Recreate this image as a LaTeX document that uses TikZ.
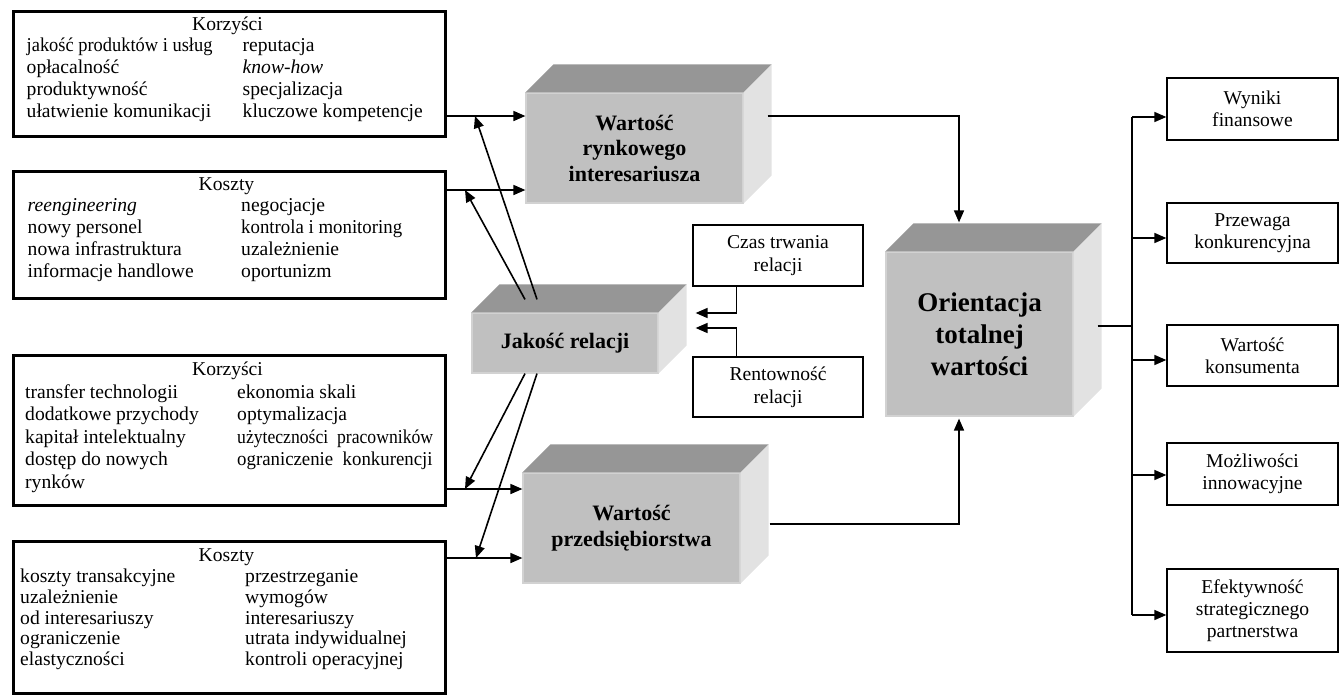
\documentclass[tikz,border=0pt]{standalone}
\usepackage{graphicx}
\usepackage{fontspec}
\setmainfont{Liberation Serif}
\usetikzlibrary{arrows.meta,calc}
\definecolor{frontg}{HTML}{C0C0C0}
\definecolor{topg}{HTML}{969696}
\definecolor{sideg}{HTML}{E2E2E2}
\definecolor{edgeg}{HTML}{D2D2D2}
\tikzset{
  lbox/.style={draw, line width=3pt, rectangle, inner sep=0pt, anchor=north west},
  txt/.style={inner sep=0pt, font=\fontsize{19.6}{21.75}\selectfont},
  rbox/.style={draw, line width=1.3pt, rectangle, inner sep=0pt, align=center, font=\fontsize{19.6}{22}\selectfont},
  front/.style={fill=frontg, draw=edgeg, line width=1.2pt, rectangle, inner sep=0pt, align=center, font=\bfseries\fontsize{22}{25.5}\selectfont},
  topface/.style={fill=topg},
  sideface/.style={fill=sideg},
  conn/.style={line width=1.6pt},
  arr/.style={line width=1.6pt, -{Triangle[length=12pt,width=10pt]}},
}
\newcommand\cubefaces[1]{%
  \fill[topface] (#1.north west) -- ++(28,-28) -- ($(#1.north east)+(28,-28)$) -- (#1.north east) -- cycle;
  \fill[sideface] (#1.north east) -- ++(28,-28) -- ($(#1.south east)+(28,-28)$) -- (#1.south east) -- cycle;
}
\newcommand\cond[2]{\scalebox{#1}[1]{#2}}
\begin{document}
\begin{tikzpicture}[x=1pt, y=-1pt]
\useasboundingbox (0,0) rectangle (1339,694);

% ---------- left boxes ----------
\node[lbox, minimum width=432pt, minimum height=125pt] (k1) at (11.5,10) {};
\node[txt, anchor=base] (k1h) at (227.5,30) {Korzyści};
\node[txt, anchor=base west] (k1a) at (26.5,51.75) {\begin{tabular}[t]{@{}l@{}}\cond{0.94}{jakość produktów i usług}\\ opłacalność\\ produktywność\\ ułatwienie komunikacji\end{tabular}};
\node[txt, anchor=base west] (k1b) at (242.5,51.75) {\begin{tabular}[t]{@{}l@{}}reputacja\\ \textit{know-how}\\ specjalizacja\\ kluczowe kompetencje\end{tabular}};

\node[lbox, minimum width=432pt, minimum height=126.5pt] (k2) at (11.5,170) {};
\node[txt, anchor=base] (k2h) at (226.5,190) {Koszty};
\node[txt, anchor=base west] (k2a) at (27.5,211.75) {\begin{tabular}[t]{@{}l@{}}\textit{reengineering}\\ nowy personel\\ nowa infrastruktura\\ informacje handlowe\end{tabular}};
\node[txt, anchor=base west] (k2b) at (241,211.75) {\begin{tabular}[t]{@{}l@{}}negocjacje\\ \cond{0.96}{kontrola i monitoring}\\ uzależnienie\\ oportunizm\end{tabular}};

\node[lbox, minimum width=432pt, minimum height=149.5pt] (k3) at (11.5,354) {};
\node[txt, anchor=base] (k3h) at (227.5,375) {Korzyści};
\node[txt, anchor=base west, font=\fontsize{19.6}{22.5}\selectfont] (k3a) at (25,398) {\begin{tabular}[t]{@{}l@{}}transfer technologii\\ dodatkowe przychody\\ kapitał intelektualny\\ dostęp do nowych\\ rynków\end{tabular}};
\node[txt, anchor=base west, font=\fontsize{19.6}{22.5}\selectfont] (k3b) at (237,398) {\begin{tabular}[t]{@{}l@{}}ekonomia skali\\ optymalizacja\\ \cond{0.9}{użyteczności~ pracowników}\\ \cond{0.96}{ograniczenie~ konkurencji}\end{tabular}};

\node[lbox, minimum width=432pt, minimum height=151.5pt] (k4) at (11.5,540) {};
\node[txt, anchor=base] (k4h) at (226.5,561.7) {Koszty};
\node[txt, anchor=base west, font=\fontsize{19.6}{20.7}\selectfont] (k4a) at (20,582.7) {\begin{tabular}[t]{@{}l@{}}koszty transakcyjne\\ uzależnienie\\ od interesariuszy\\ ograniczenie\\ elastyczności\end{tabular}};
\node[txt, anchor=base west, font=\fontsize{19.6}{20.7}\selectfont] (k4b) at (245,582.7) {\begin{tabular}[t]{@{}l@{}}przestrzeganie\\ wymogów\\ interesariuszy\\ utrata indywidualnej\\ kontroli operacyjnej\end{tabular}};

% ---------- 3D boxes ----------
\node[front, minimum width=217pt, minimum height=110pt] (wr) at (634.5,148) {Wartość\\rynkowego\\interesariusza};
\cubefaces{wr}
\node[front, minimum width=186pt, minimum height=60pt] (jr) at (565,343) {Jakość relacji};
\cubefaces{jr}
\node[front, minimum width=217pt, minimum height=110pt] (wp) at (631.5,528) {Wartość\\przedsiębiorstwa};
\cubefaces{wp}
\node[front, minimum width=187pt, minimum height=164pt, font=\bfseries\fontsize{27}{32}\selectfont] (ot) at (979.5,334) {Orientacja\\totalnej\\wartości};
\cubefaces{ot}

% ---------- small boxes ----------
\node[rbox, minimum width=170pt, minimum height=61pt, font=\fontsize{19.6}{23}\selectfont] (cz) at (778,255.5) {Czas trwania\\relacji};
\node[rbox, minimum width=170pt, minimum height=60pt, font=\fontsize{19.6}{23}\selectfont] (rt) at (778,387) {Rentowność\\relacji};

\node[rbox, minimum width=171pt, minimum height=62pt] (w1) at (1252.5,109) {Wyniki\\finansowe};
\node[rbox, minimum width=171pt, minimum height=60pt] (w2) at (1252.5,233) {Przewaga\\konkurencyjna};
\node[rbox, minimum width=171pt, minimum height=61pt] (w3) at (1252.5,355.5) {Wartość\\konsumenta};
\node[rbox, minimum width=171pt, minimum height=62pt] (w4) at (1252.5,474) {Możliwości\\innowacyjne};
\node[rbox, minimum width=171pt, minimum height=83pt] (w5) at (1252.5,610.5) {Efektywność\\strategicznego\\partnerstwa};

% ---------- connectors ----------
\coordinate (c1) at ($(k1.north east)+(0,106)$);
\coordinate (c2) at ($(k2.north east)+(0,20)$);
\coordinate (c3) at ($(k3.north east)+(0,135)$);
\coordinate (c4) at ($(k4.north east)+(0,18)$);
\draw[arr] (c1) -- (c1 -| wr.west);
\draw[arr] (c2) -- (c2 -| wr.west);
\draw[arr] (c3) -- (c3 -| wp.west);
\draw[arr] (c4) -- (c4 -| wp.west);

\draw[arr] ($(jr.north)+(-28,-13)$) -- ($(c1)+(28.5,0)$);
\draw[arr] ($(jr.north)+(-40,-13)$) -- ($(c2)+(18.5,0)$);
\draw[arr] ($(jr.south)+(-40,0)$) -- ($(c3)+(18.5,0)$);
\draw[arr] ($(jr.south)+(-28,0)$) -- ($(c4)+(29.5,0)$);

\draw[arr] ($(cz.south west)+(44,0)$) |- ($(jr.east)+(37,-30)$);
\draw[arr] ($(rt.north west)+(44,0)$) |- ($(jr.east)+(37,-15)$);

\draw[arr] ($(wr.east)+(24,-32)$) -| ($(ot.north)+(-20.5,-29)$);
\draw[arr] ($(wp.east)+(29,-4)$) -| ($(ot.south)+(-20.5,2)$);

\coordinate (tk) at ($(ot.east)+(58.5,-8)$);
\draw[conn] ($(ot.east)+(24,-8)$) -- (tk);
\coordinate (a1) at ($(w1.west)+(0,8)$);
\coordinate (a2) at ($(w2.west)+(0,5)$);
\coordinate (a3) at ($(w3.west)+(0,4.5)$);
\coordinate (a4) at ($(w4.west)+(0,1)$);
\coordinate (a5) at ($(w5.west)+(0,4.5)$);
\draw[conn] (tk |- a1) -- (tk |- a5);
\foreach \i in {1,...,5} {\draw[arr] (tk |- a\i) -- (a\i);}
\end{tikzpicture}
\end{document}
